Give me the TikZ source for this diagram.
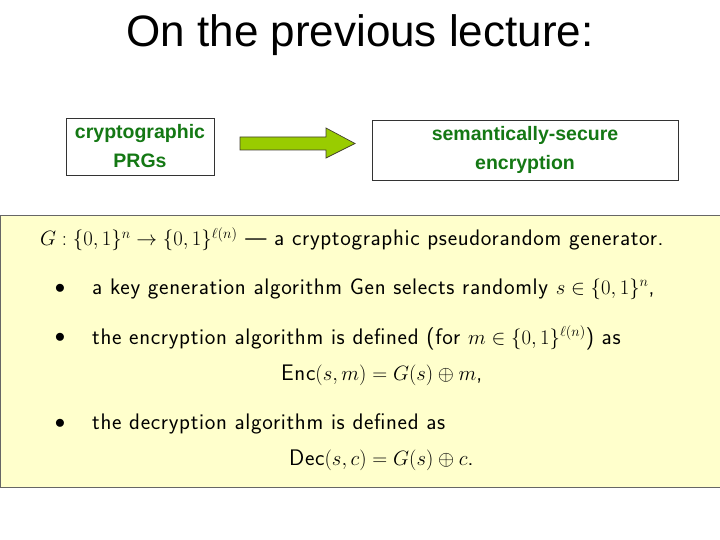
\documentclass[tikz,border=0pt]{standalone}
\usepackage{fontspec}
\setmainfont{Liberation Sans}
\newfontfamily\lmsans[LetterSpace=3]{Latin Modern Sans}
\usepackage{amssymb}
\definecolor{arrF}{RGB}{153,204,0}
\definecolor{boxY}{RGB}{255,255,204}
\definecolor{txtG}{RGB}{20,120,20}
\tikzset{
 hdrbox/.style={draw=black!80,line width=0.6pt,fill=white,text=txtG,font=\fontsize{19.5}{29}\selectfont\bfseries,align=center,inner sep=0},
 body/.style={anchor=west,font=\fontsize{22.5}{26}\selectfont\lmsans,inner sep=0},
 bul/.style={font=\fontsize{22.5}{26}\selectfont,inner sep=0},
}
\begin{document}
\begin{tikzpicture}[x=1pt,y=-1pt]
\useasboundingbox (0,0) rectangle (720,540);
\node[font=\fontsize{44}{48}\selectfont] (title) at (360,35) {On the previous lecture:};
\node[hdrbox,minimum width=148,minimum height=57] (prg) at (140,146.5) {cryptographic\\PRGs};
\node[hdrbox,minimum width=306,minimum height=60] (enc) at (525,150) {semantically-secure\\encryption};
\filldraw[fill=arrF,draw=black!70!olive,line width=0.7pt]
 (240,137) -- (326,137) -- (326,128) -- (355,143.5) -- (326,158) -- (326,150) -- (240,150) -- cycle;
\node[draw=black!60,fill=boxY,minimum width=720,minimum height=272,anchor=north west,inner sep=0] (box) at (0,215) {};
\node[body] (l1) at (40,239) {$G:\{0,1\}^n\to\{0,1\}^{\ell(n)}$ \textemdash{} a cryptographic pseudorandom generator.};
\node[bul] (p1) at (60,289) {$\bullet$};
\node[body] (b1) at (92,289) {a key generation algorithm Gen selects randomly $s\in\{0,1\}^n$,};
\node[bul] (p2) at (60,338) {$\bullet$};
\node[body] (b2) at (92,338) {the encryption algorithm is defined (for $m\in\{0,1\}^{\ell(n)}$) as};
\node[body] (e1) at (281,375) {Enc$(s,m)=G(s)\oplus m$,};
\node[bul] (p3) at (60,424) {$\bullet$};
\node[body] (b3) at (92,424) {the decryption algorithm is defined as};
\node[body] (d1) at (289,460) {Dec$(s,c)=G(s)\oplus c$.};
\end{tikzpicture}
\end{document}
